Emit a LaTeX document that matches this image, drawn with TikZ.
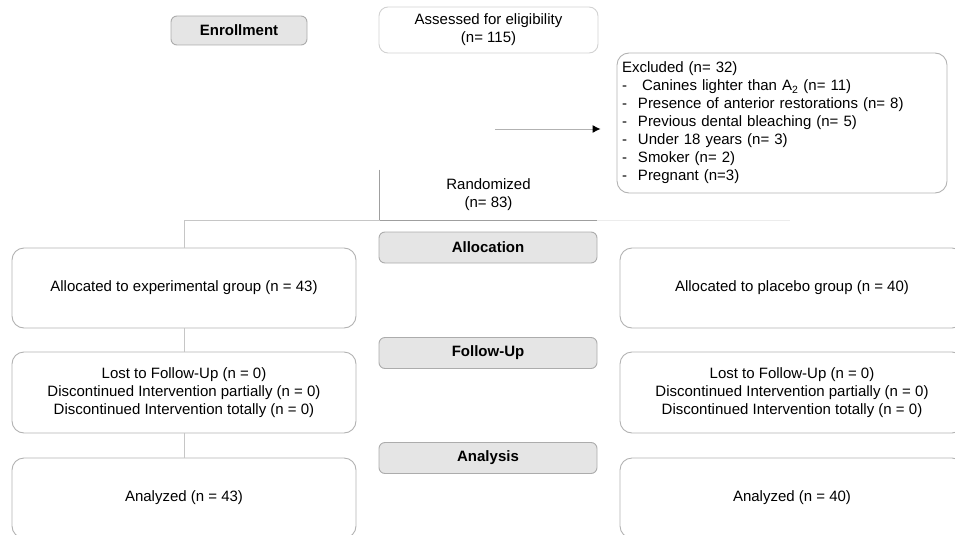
\documentclass[tikz,border=0pt]{standalone}
\usepackage{fontspec}
\setmainfont{Liberation Sans}
\usetikzlibrary{arrows.meta}

\begin{document}
\begin{tikzpicture}[x=1pt,y=-1pt,font=\fontsize{15}{18}\selectfont]
   \useasboundingbox (0,0) rectangle (955,535);
   \begin{scope}[every node/.style={rounded corners=6pt,draw=gray!65,fill=gray!20,line width=0.9pt,font=\fontsize{15}{18}\selectfont\bfseries,minimum width=218pt,minimum height=31pt}]
    \node (enroll) at (239,30.5) [minimum width=136pt,minimum height=29pt] {Enrollment};
    \node (alloc) at (488,247.5) {Allocation};
    \node (fup) at (488,353) {Follow-Up};
    \node (ana) at (488,458) {Analysis};
   \end{scope}
   \begin{scope}[every node/.style={rounded corners=12pt,draw=gray!60,line width=0.9pt,align=center,minimum width=344pt,minimum height=80pt}]
    \node (assess) at (488.5,30) [minimum width=219pt,minimum height=46pt,rounded corners=9pt,draw=gray!35] {Assessed for eligibility\\(n= 115)};
    \node (excl) at (782,123) [minimum width=330pt,minimum height=140pt,text width=320pt,inner xsep=5pt,align=left] {Excluded (n= 32)\\
     \makebox[20pt][l]{-}Canines lighter than A\textsubscript{2} (n= 11)\\
     \makebox[16pt][l]{-}Presence of anterior restorations (n= 8)\\
     \makebox[16pt][l]{-}Previous dental bleaching (n= 5)\\
     \makebox[16pt][l]{-}Under 18 years (n= 3)\\
     \makebox[16pt][l]{-}Smoker (n= 2)\\
     \makebox[16pt][l]{-}Pregnant (n=3)};
    \node (rand) at (488.5,195) [draw=none,minimum width=217pt,minimum height=50pt] {Randomized\\(n= 83)};
    \node (expL) at (184,288) {Allocated to experimental group (n = 43)};
    \node (plcR) at (792,288) {Allocated to placebo group (n = 40)};
    \node (fupL) at (184,392.5) [minimum height=81pt] {Lost to Follow-Up (n = 0)\\Discontinued Intervention partially (n = 0)\\Discontinued Intervention totally (n = 0)};
    \node (fupR) at (792,392.5) [minimum height=81pt] {Lost to Follow-Up (n = 0)\\Discontinued Intervention partially (n = 0)\\Discontinued Intervention totally (n = 0)};
    \node (anaL) at (184,498) {Analyzed (n = 43)};
    \node (anaR) at (792,498) {Analyzed (n = 40)};
   \end{scope}
   \coordinate (arrS) at (495,129);
   \begin{scope}[line width=0.9pt]
    \draw[gray!75] (rand.north west) -- (rand.south west) -- (rand.south east);
    \draw[gray!15] (rand.south east) -- ++(193,0);
    \draw[gray!45] (rand.south west) -| (expL.north);
    \draw[gray!45] (expL) -- (fupL);
    \draw[gray!45] (fupL) -- (anaL);
    \draw[gray!60,-{Latex[length=8pt,width=8pt,black]},shorten >=16pt] (arrS) -- (arrS -| excl.west);
   \end{scope}
\end{tikzpicture}
\end{document}
